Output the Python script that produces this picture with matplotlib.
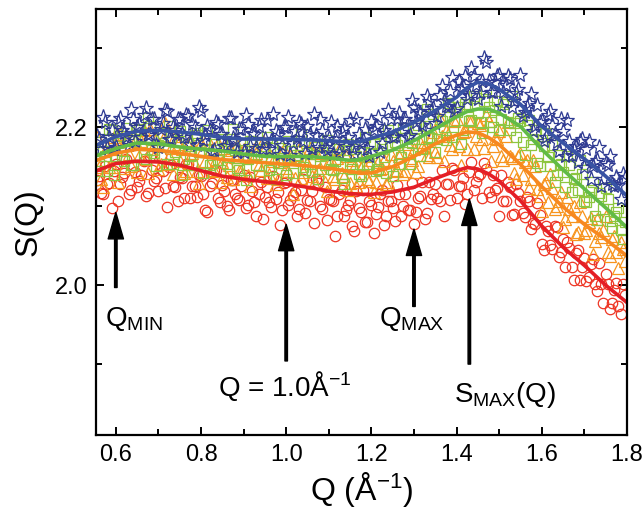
import numpy as np
import matplotlib
matplotlib.use("Agg")
import matplotlib.pyplot as plt
from matplotlib.ticker import MultipleLocator

plt.rcParams["font.family"] = ["Liberation Sans", "DejaVu Sans"]
plt.rcParams["mathtext.fontset"] = "custom"
plt.rcParams["mathtext.rm"] = "Liberation Sans"
plt.rcParams["mathtext.it"] = "Liberation Sans:italic"

# ------------------------------------------------------------------ #
# Measured S(Q) points: two interleaved sample grids, 0.01 1/A apart
# ------------------------------------------------------------------ #
q_points = np.round(np.arange(0.555, 1.800, 0.01), 3)
q_points_b = np.round(np.arange(0.560, 1.795, 0.01), 3)

s_blue = [2.189, 2.172, 2.207, 2.187, 2.172, 2.207, 2.197, 2.188, 2.223, 2.182,
          2.204, 2.216, 2.190, 2.210, 2.178, 2.198, 2.222, 2.185, 2.200, 2.210,
          2.191, 2.215, 2.179, 2.200, 2.226, 2.184, 2.201, 2.169, 2.207, 2.191,
          2.176, 2.212, 2.186, 2.169, 2.198, 2.216, 2.176, 2.191, 2.202, 2.172,
          2.209, 2.183, 2.195, 2.166, 2.200, 2.213, 2.180, 2.186, 2.204, 2.167,
          2.192, 2.217, 2.175, 2.195, 2.171, 2.206, 2.185, 2.167, 2.199, 2.187,
          2.174, 2.211, 2.179, 2.198, 2.164, 2.196, 2.213, 2.180, 2.193, 2.210,
          2.189, 2.218, 2.211, 2.188, 2.235, 2.207, 2.218, 2.196, 2.233, 2.224,
          2.214, 2.252, 2.227, 2.246, 2.220, 2.259, 2.252, 2.236, 2.275, 2.254,
          2.243, 2.288, 2.259, 2.245, 2.265, 2.227, 2.253, 2.261, 2.233, 2.249,
          2.214, 2.226, 2.242, 2.201, 2.207, 2.182, 2.215, 2.203, 2.181, 2.210,
          2.163, 2.183, 2.171, 2.156, 2.185, 2.172, 2.134, 2.156, 2.175, 2.134,
          2.152, 2.128, 2.137, 2.109, 2.136]
s_blue_b = [2.185, 2.213, 2.174, 2.196, 2.175, 2.212, 2.193, 2.177, 2.211, 2.200,
            2.188, 2.224, 2.192, 2.210, 2.175, 2.205, 2.220, 2.185, 2.197, 2.211,
            2.188, 2.214, 2.204, 2.178, 2.221, 2.190, 2.197, 2.171, 2.204, 2.191,
            2.178, 2.212, 2.183, 2.198, 2.169, 2.204, 2.193, 2.174, 2.209, 2.185,
            2.172, 2.217, 2.190, 2.178, 2.200, 2.165, 2.195, 2.207, 2.182, 2.202,
            2.172, 2.190, 2.210, 2.175, 2.186, 2.166, 2.202, 2.194, 2.176, 2.209,
            2.166, 2.191, 2.184, 2.174, 2.208, 2.201, 2.169, 2.197, 2.222, 2.187,
            2.211, 2.194, 2.211, 2.190, 2.225, 2.220, 2.203, 2.239, 2.220, 2.205,
            2.241, 2.233, 2.226, 2.263, 2.224, 2.249, 2.265, 2.241, 2.265, 2.236,
            2.258, 2.283, 2.244, 2.257, 2.266, 2.244, 2.265, 2.225, 2.243, 2.266,
            2.219, 2.231, 2.195, 2.228, 2.208, 2.188, 2.221, 2.191, 2.170, 2.195,
            2.209, 2.165, 2.176, 2.183, 2.149, 2.182, 2.151, 2.159, 2.125, 2.155,
            2.164, 2.126, 2.127, 2.141]

s_green = [2.144, 2.181, 2.163, 2.198, 2.140, 2.180, 2.163, 2.199, 2.152, 2.182,
           2.198, 2.165, 2.212, 2.171, 2.151, 2.189, 2.175, 2.202, 2.154, 2.182,
           2.140, 2.188, 2.164, 2.193, 2.168, 2.142, 2.197, 2.155, 2.171, 2.146,
           2.182, 2.162, 2.198, 2.148, 2.171, 2.133, 2.182, 2.164, 2.139, 2.172,
           2.187, 2.150, 2.134, 2.174, 2.157, 2.182, 2.142, 2.165, 2.192, 2.146,
           2.154, 2.178, 2.135, 2.169, 2.184, 2.147, 2.157, 2.172, 2.128, 2.179,
           2.147, 2.163, 2.138, 2.188, 2.154, 2.179, 2.147, 2.173, 2.142, 2.188,
           2.181, 2.154, 2.199, 2.168, 2.180, 2.199, 2.164, 2.202, 2.187, 2.217,
           2.185, 2.208, 2.184, 2.226, 2.208, 2.226, 2.197, 2.226, 2.209, 2.237,
           2.207, 2.233, 2.225, 2.200, 2.233, 2.211, 2.232, 2.197, 2.205, 2.212,
           2.181, 2.203, 2.178, 2.196, 2.151, 2.176, 2.162, 2.178, 2.140, 2.153,
           2.124, 2.152, 2.135, 2.120, 2.141, 2.105, 2.121, 2.087, 2.117, 2.096,
           2.109, 2.072, 2.093, 2.070, 2.080]
s_green_b = [2.153, 2.170, 2.145, 2.197, 2.164, 2.189, 2.157, 2.183, 2.152, 2.197,
             2.189, 2.160, 2.202, 2.167, 2.177, 2.193, 2.154, 2.188, 2.169, 2.195,
             2.160, 2.179, 2.152, 2.190, 2.168, 2.184, 2.152, 2.179, 2.159, 2.185,
             2.154, 2.179, 2.171, 2.146, 2.179, 2.160, 2.183, 2.152, 2.163, 2.172,
             2.146, 2.174, 2.155, 2.179, 2.139, 2.170, 2.161, 2.182, 2.149, 2.167,
             2.143, 2.175, 2.163, 2.152, 2.178, 2.146, 2.166, 2.136, 2.171, 2.154,
             2.172, 2.141, 2.169, 2.151, 2.167, 2.144, 2.180, 2.162, 2.196, 2.138,
             2.178, 2.162, 2.199, 2.154, 2.185, 2.203, 2.173, 2.223, 2.186, 2.169,
             2.210, 2.200, 2.231, 2.187, 2.219, 2.179, 2.230, 2.208, 2.240, 2.218,
             2.193, 2.249, 2.206, 2.222, 2.196, 2.229, 2.207, 2.240, 2.187, 2.208,
             2.165, 2.209, 2.185, 2.155, 2.184, 2.193, 2.151, 2.130, 2.165, 2.143,
             2.163, 2.118, 2.136, 2.158, 2.107, 2.111, 2.131, 2.083, 2.113, 2.123,
             2.081, 2.087, 2.098, 2.058]

s_orange = [2.188, 2.135, 2.170, 2.150, 2.188, 2.130, 2.173, 2.186, 2.151, 2.183,
            2.164, 2.197, 2.142, 2.173, 2.185, 2.153, 2.205, 2.164, 2.141, 2.179,
            2.173, 2.144, 2.184, 2.153, 2.129, 2.172, 2.186, 2.145, 2.160, 2.131,
            2.174, 2.152, 2.135, 2.178, 2.144, 2.162, 2.125, 2.173, 2.152, 2.182,
            2.136, 2.164, 2.128, 2.156, 2.173, 2.144, 2.116, 2.165, 2.136, 2.158,
            2.174, 2.129, 2.146, 2.167, 2.119, 2.159, 2.135, 2.172, 2.138, 2.120,
            2.158, 2.126, 2.148, 2.163, 2.132, 2.118, 2.156, 2.148, 2.128, 2.166,
            2.145, 2.163, 2.141, 2.179, 2.159, 2.143, 2.181, 2.175, 2.162, 2.194,
            2.162, 2.189, 2.195, 2.178, 2.208, 2.176, 2.194, 2.172, 2.208, 2.189,
            2.203, 2.174, 2.208, 2.176, 2.185, 2.164, 2.189, 2.164, 2.142, 2.164,
            2.140, 2.159, 2.135, 2.151, 2.113, 2.128, 2.105, 2.123, 2.100, 2.118,
            2.084, 2.096, 2.100, 2.067, 2.087, 2.070, 2.085, 2.056, 2.066, 2.070,
            2.042, 2.059, 2.042, 2.055, 2.030]
s_orange_b = [2.149, 2.124, 2.175, 2.149, 2.173, 2.191, 2.148, 2.166, 2.189, 2.143,
              2.183, 2.160, 2.198, 2.164, 2.147, 2.185, 2.153, 2.174, 2.189, 2.157,
              2.142, 2.178, 2.167, 2.145, 2.180, 2.157, 2.171, 2.146, 2.180, 2.156,
              2.137, 2.171, 2.162, 2.145, 2.173, 2.139, 2.163, 2.167, 2.146, 2.174,
              2.141, 2.157, 2.134, 2.168, 2.148, 2.163, 2.136, 2.173, 2.143, 2.155,
              2.138, 2.167, 2.148, 2.130, 2.157, 2.138, 2.161, 2.142, 2.163, 2.129,
              2.150, 2.131, 2.154, 2.135, 2.158, 2.130, 2.147, 2.158, 2.130, 2.157,
              2.146, 2.168, 2.145, 2.161, 2.172, 2.151, 2.175, 2.165, 2.186, 2.169,
              2.210, 2.157, 2.192, 2.173, 2.211, 2.152, 2.195, 2.208, 2.173, 2.205,
              2.185, 2.215, 2.157, 2.186, 2.195, 2.159, 2.207, 2.161, 2.134, 2.167,
              2.156, 2.123, 2.158, 2.122, 2.094, 2.131, 2.141, 2.096, 2.107, 2.074,
              2.112, 2.087, 2.065, 2.105, 2.066, 2.080, 2.040, 2.084, 2.061, 2.087,
              2.037, 2.062, 2.022, 2.046]

s_red = [2.133, 2.117, 2.151, 2.129, 2.145, 2.106, 2.137, 2.160, 2.121, 2.143,
         2.132, 2.157, 2.117, 2.146, 2.136, 2.164, 2.123, 2.149, 2.126, 2.107,
         2.136, 2.153, 2.110, 2.125, 2.140, 2.115, 2.093, 2.129, 2.146, 2.105,
         2.119, 2.095, 2.133, 2.110, 2.125, 2.098, 2.137, 2.105, 2.116, 2.084,
         2.124, 2.099, 2.109, 2.076, 2.129, 2.102, 2.114, 2.087, 2.121, 2.091,
         2.106, 2.079, 2.129, 2.097, 2.083, 2.108, 2.062, 2.116, 2.088, 2.101,
         2.075, 2.119, 2.092, 2.080, 2.107, 2.066, 2.099, 2.121, 2.087, 2.106,
         2.081, 2.116, 2.100, 2.095, 2.129, 2.092, 2.113, 2.084, 2.130, 2.115,
         2.110, 2.146, 2.128, 2.108, 2.146, 2.125, 2.136, 2.116, 2.156, 2.131,
         2.141, 2.155, 2.118, 2.140, 2.123, 2.139, 2.107, 2.124, 2.090, 2.117,
         2.091, 2.112, 2.071, 2.078, 2.089, 2.044, 2.068, 2.046, 2.074, 2.042,
         2.023, 2.047, 2.006, 2.045, 2.023, 2.005, 2.027, 2.001, 2.028, 1.977,
         2.001, 1.977, 2.003, 1.963, 1.988]
s_red_b = [2.138, 2.116, 2.128, 2.098, 2.154, 2.128, 2.142, 2.116, 2.152, 2.124,
           2.139, 2.113, 2.164, 2.132, 2.119, 2.145, 2.099, 2.152, 2.124, 2.137,
           2.110, 2.153, 2.125, 2.112, 2.138, 2.095, 2.126, 2.146, 2.110, 2.127,
           2.100, 2.133, 2.115, 2.108, 2.140, 2.101, 2.119, 2.088, 2.131, 2.112,
           2.105, 2.138, 2.118, 2.095, 2.130, 2.108, 2.118, 2.096, 2.135, 2.108,
           2.119, 2.135, 2.100, 2.124, 2.109, 2.107, 2.088, 2.120, 2.095, 2.108,
           2.068, 2.098, 2.120, 2.080, 2.101, 2.090, 2.116, 2.076, 2.107, 2.098,
           2.127, 2.088, 2.116, 2.095, 2.078, 2.110, 2.130, 2.091, 2.109, 2.128,
           2.107, 2.088, 2.128, 2.148, 2.110, 2.126, 2.103, 2.143, 2.121, 2.138,
           2.110, 2.147, 2.112, 2.121, 2.087, 2.107, 2.131, 2.089, 2.128, 2.106,
           2.086, 2.106, 2.079, 2.104, 2.052, 2.075, 2.051, 2.075, 2.035, 2.059,
           2.055, 2.023, 2.041, 2.007, 2.034, 2.010, 2.033, 1.993, 2.002, 2.014,
           1.970, 1.994, 1.974, 2.002]

# ------------------------------------------------------------------ #
# Smoothed fit curves
# ------------------------------------------------------------------ #
q_fit = [0.55, 0.60, 0.65, 0.70, 0.75, 0.80, 0.85, 0.90, 0.95, 1.00,
         1.05, 1.10, 1.15, 1.175, 1.20, 1.25, 1.30, 1.35, 1.40, 1.425,
         1.45, 1.475, 1.50, 1.55, 1.60, 1.65, 1.70, 1.75, 1.80]

fit_blue = [2.176, 2.188, 2.195, 2.196, 2.194, 2.191, 2.187, 2.185, 2.185, 2.185,
            2.184, 2.183, 2.181, 2.182, 2.186, 2.194, 2.206, 2.221, 2.238, 2.250,
            2.257, 2.255, 2.248, 2.229, 2.201, 2.180, 2.160, 2.138, 2.113]
fit_green = [2.163, 2.173, 2.180, 2.179, 2.175, 2.172, 2.170, 2.166, 2.163, 2.163,
             2.163, 2.161, 2.158, 2.159, 2.163, 2.171, 2.183, 2.198, 2.213, 2.220,
             2.223, 2.223, 2.218, 2.201, 2.172, 2.146, 2.122, 2.098, 2.073]
fit_orange = [2.157, 2.167, 2.172, 2.171, 2.167, 2.163, 2.159, 2.157, 2.155, 2.153,
              2.151, 2.148, 2.144, 2.142, 2.142, 2.150, 2.163, 2.179, 2.190, 2.194,
              2.193, 2.187, 2.178, 2.153, 2.125, 2.099, 2.077, 2.058, 2.037]
fit_red = [2.144, 2.154, 2.157, 2.156, 2.152, 2.145, 2.138, 2.134, 2.131, 2.128,
           2.124, 2.119, 2.116, 2.115, 2.115, 2.118, 2.124, 2.135, 2.145, 2.149,
           2.147, 2.141, 2.132, 2.107, 2.075, 2.048, 2.025, 2.000, 1.978]

# arrows marking the Q positions discussed in the text
arrow_q = [0.60, 1.00, 1.30, 1.43]
arrow_base = [1.997, 1.904, 1.973, 1.900]
arrow_tip = [2.092, 2.077, 2.071, 2.109]
arrow_text = ["Q$_{\\mathrm{MIN}}$", "Q = 1.0Å$^{-1}$", "Q$_{\\mathrm{MAX}}$",
              "S$_{\\mathrm{MAX}}$(Q)"]
text_x = [0.574, 0.841, 1.217, 1.394]
text_y = [1.948, 1.859, 1.948, 1.852]

############################################################################
fig = plt.figure(figsize=(6.43, 5.15), dpi=100)
ax = fig.add_axes([0.149, 0.155, 0.826, 0.828])

# scatter: red circles, orange triangles, green squares, blue stars
ax.plot(q_points, s_red, ls="none", marker="o", mfc="none", mec="#ee3524", ms=7.5, mew=0.9)
ax.plot(q_points_b, s_red_b, ls="none", marker="o", mfc="none", mec="#ee3524", ms=7.5, mew=0.9)
ax.plot(q_points, s_orange, ls="none", marker="^", mfc="none", mec="#f7941d", ms=8.5, mew=0.9)
ax.plot(q_points_b, s_orange_b, ls="none", marker="^", mfc="none", mec="#f7941d", ms=8.5, mew=0.9)
ax.plot(q_points, s_green, ls="none", marker="s", mfc="none", mec="#8dc63f", ms=7, mew=0.9)
ax.plot(q_points_b, s_green_b, ls="none", marker="s", mfc="none", mec="#8dc63f", ms=7, mew=0.9)
ax.plot(q_points, s_blue, ls="none", marker="*", mfc="none", mec="#2e3a92", ms=11, mew=0.9)
ax.plot(q_points_b, s_blue_b, ls="none", marker="*", mfc="none", mec="#2e3a92", ms=11, mew=0.9)

# fit lines on top
ax.plot(q_fit, fit_red, color="#e41e26", lw=2.6)
ax.plot(q_fit, fit_orange, color="#f7881f", lw=2.6)
ax.plot(q_fit, fit_green, color="#62bb46", lw=2.6)
ax.plot(q_fit, fit_blue, color="#3853a4", lw=2.6)

for q, y0, y1, label, tx, ty in zip(arrow_q, arrow_base, arrow_tip,
                                     arrow_text, text_x, text_y):
    ax.annotate("", xy=(q, y1), xytext=(q, y0),
                arrowprops=dict(facecolor="black", edgecolor="black",
                                width=1.8, headwidth=11, headlength=19, shrink=0))
    ax.text(tx, ty, label, fontsize=20, ha="left", va="baseline")

ax.set_xlim(0.553, 1.8)
ax.set_ylim(1.81, 2.35)
ax.xaxis.set_major_locator(MultipleLocator(0.2))
ax.xaxis.set_minor_locator(MultipleLocator(0.1))
ax.yaxis.set_major_locator(MultipleLocator(0.2))
ax.yaxis.set_minor_locator(MultipleLocator(0.1))
ax.xaxis.set_major_formatter(plt.FormatStrFormatter("%.1f"))
ax.yaxis.set_major_formatter(plt.FormatStrFormatter("%.1f"))

ax.tick_params(which="both", direction="in", top=True, right=True, width=1.4,
               labelsize=17, pad=6)
ax.tick_params(which="major", length=6)
ax.tick_params(which="minor", length=4)
for sp in ax.spines.values():
    sp.set_linewidth(1.6)

ax.set_xlabel("Q (Å$^{-1}$)", fontsize=23, labelpad=3)
ax.set_ylabel("S(Q)", fontsize=23, labelpad=8)

fig.savefig("out.png", dpi=100)
